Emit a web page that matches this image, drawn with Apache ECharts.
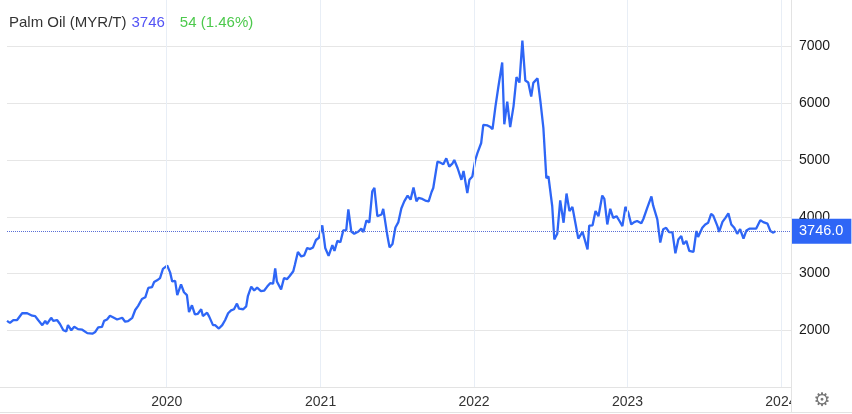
<!DOCTYPE html>
<html>
<head>
<meta charset="utf-8">
<title>Palm Oil</title>
<script src="https://cdn.jsdelivr.net/npm/echarts@6/dist/echarts.min.js"></script>
<style>
	html, body { margin: 0; padding: 0; background: #fff; }
	#chart { width: 852px; height: 414px; }
</style>
</head>
<body>
<div id="chart"></div>
<script>
// day of year (1 = Jan 1) and closing price
var days2019 = [-14, -7, 1, 10, 22, 34, 46, 53, 60, 70, 77, 81, 91, 96, 105, 112, 120, 127, 131, 139, 146, 155, 165, 169, 177, 189, 196, 203, 212, 217, 224, 231, 238, 248, 260, 267, 274, 284, 291, 298, 307, 315, 322, 331, 336, 343, 350, 357];
var price2019 = [2166, 2130, 2180, 2180, 2300, 2300, 2256, 2250, 2180, 2090, 2166, 2110, 2220, 2166, 2180, 2110, 2000, 1980, 2090, 2000, 2060, 2020, 2010, 2000, 1950, 1940, 1970, 2050, 2060, 2166, 2190, 2256, 2230, 2190, 2220, 2150, 2160, 2220, 2357, 2430, 2550, 2580, 2745, 2760, 2850, 2880, 2920, 3080];

var days2020 = [2, 9, 14, 21, 26, 35, 42, 49, 54, 61, 68, 75, 83, 87, 97, 102, 111, 116, 125, 133, 140, 147, 154, 161, 168, 173, 183, 190, 194, 202, 209, 216, 225, 233, 240, 247, 254, 259, 263, 273, 280, 287, 294, 302, 306, 313, 321, 328, 335, 342, 349, 356, 363];
var price2020 = [3140, 3020, 2860, 2870, 2620, 2810, 2670, 2620, 2320, 2440, 2280, 2290, 2370, 2250, 2310, 2240, 2090, 2090, 2030, 2090, 2180, 2300, 2350, 2370, 2470, 2380, 2370, 2420, 2600, 2770, 2700, 2750, 2690, 2700, 2770, 2830, 2820, 3090, 2860, 2720, 2920, 2900, 2960, 3040, 3160, 3380, 3300, 3320, 3450, 3430, 3460, 3590, 3630];

var days2021 = [5, 12, 20, 29, 34, 41, 48, 55, 62, 67, 74, 81, 91, 98, 103, 110, 117, 124, 129, 136, 146, 150, 160, 165, 172, 179, 186, 193, 200, 208, 215, 222, 229, 234, 243, 250, 258, 265, 269, 279, 284, 293, 300, 307, 315, 319, 327, 336, 341, 350, 355, 362];
var price2021 = [3850, 3450, 3310, 3500, 3400, 3575, 3550, 3760, 3765, 4130, 3740, 3700, 3740, 3790, 3730, 3935, 3900, 4450, 4510, 4010, 4040, 4140, 3660, 3460, 3520, 3810, 3906, 4145, 4272, 4372, 4302, 4517, 4272, 4332, 4314, 4285, 4272, 4436, 4506, 4970, 4960, 4925, 5030, 4883, 4942, 5000, 4855, 4651, 4808, 4419, 4651, 4709];

var days2022 = [4, 9, 18, 23, 33, 40, 45, 52, 59, 68, 73, 80, 87, 95, 102, 109, 116, 123, 130, 137, 142, 152, 159, 166, 173, 178, 187, 192, 199, 206, 214, 221, 228, 235, 242, 249, 259, 263, 271, 275, 283, 290, 297, 306, 311, 318, 325, 332, 340, 347, 354, 361];
var price2022 = [5000, 5120, 5300, 5620, 5610, 5580, 5545, 5945, 6295, 6720, 5630, 6030, 5580, 5950, 6460, 6365, 7105, 6400, 6365, 6120, 6360, 6440, 6030, 5560, 4680, 4710, 4185, 3600, 3700, 4290, 3895, 4410, 4100, 4175, 3895, 3615, 3735, 3740, 3425, 3845, 3850, 4100, 4010, 4375, 4315, 3865, 4140, 3980, 4010, 3925, 3835, 4175];

var days2023 = [3, 10, 17, 24, 34, 39, 48, 58, 62, 72, 79, 86, 93, 100, 108, 115, 122, 129, 134, 141, 148, 158, 165, 169, 179, 186, 193, 200, 205, 215, 219, 227, 234, 241, 248, 255, 262, 269, 277, 284, 291, 300, 307, 317, 324, 334, 341, 348, 353];
var price2023 = [4070, 3865, 3905, 3925, 3885, 3965, 4155, 4360, 4200, 3955, 3545, 3780, 3805, 3730, 3725, 3355, 3600, 3660, 3515, 3575, 3400, 3380, 3750, 3645, 3805, 3865, 3895, 4050, 4020, 3835, 3735, 3910, 3980, 4060, 3865, 3805, 3700, 3780, 3615, 3760, 3790, 3790, 3790, 3940, 3905, 3880, 3750, 3720, 3746];

var yearLines = [2020, 2021, 2022, 2023, 2024];
var lastPrice = 3746;
var change = 54;
var changePct = 1.46;

var FONT = 'Liberation Sans, Arial, sans-serif';

var buildSeries = function() {
	var years = [
		[2019, days2019, price2019],
		[2020, days2020, price2020],
		[2021, days2021, price2021],
		[2022, days2022, price2022],
		[2023, days2023, price2023]
	];
	var out = [];
	years.forEach(function(y) {
		for (var i = 0; i < y[1].length; i++) {
			out.push([Date.UTC(y[0], 0, y[1][i]), y[2][i]]);
		}
	});
	return out;
};

var myChart = echarts.init(document.getElementById('chart'), null, { renderer: 'canvas' });

var option = {
	animation: false,
	useUTC: true,
	backgroundColor: '#fff',
	title: {
		left: 9,
		top: 14,
		padding: 0,
		text: '{n|Palm Oil (MYR/T)} {p|' + lastPrice + '}   {c|' + change + ' (' + changePct.toFixed(2) + '%)}',
		textStyle: {
			fontWeight: 'normal',
			rich: {
				n: { fontSize: 15, color: '#333', fontWeight: 'normal', fontFamily: FONT },
				p: { fontSize: 15, color: '#5353f5', fontWeight: 'normal', fontFamily: FONT },
				c: { fontSize: 15, color: '#4cc94c', fontWeight: 'normal', fontFamily: FONT }
			}
		}
	},
	grid: { left: 7, right: 61, top: 0, bottom: 27, containLabel: false },
	xAxis: {
		type: 'time',
		min: Date.UTC(2018, 11, 17),
		max: Date.UTC(2024, 0, 25),
		minInterval: 3600 * 24 * 1000 * 360,
		maxInterval: 3600 * 24 * 1000 * 370,
		axisLine: { show: true, lineStyle: { color: '#e3e3e3', width: 1 } },
		axisTick: { show: false },
		splitLine: { show: false },
		axisLabel: {
			margin: 8,
			fontSize: 14,
			color: '#333',
			fontFamily: FONT,
			formatter: function(value) {
				var y = new Date(value).getUTCFullYear();
				return y < 2020 ? '' : String(y);
			}
		}
	},
	yAxis: {
		type: 'value',
		position: 'right',
		min: 1000,
		max: 7820,
		interval: 1000,
		axisLine: { show: true, lineStyle: { color: '#e3e3e3', width: 1 } },
		axisTick: { show: false },
		splitLine: { show: true, showMinLine: false, showMaxLine: false, lineStyle: { color: '#e6e6e6', width: 1 } },
		axisLabel: {
			showMinLabel: false,
			showMaxLabel: false,
			margin: 8,
			fontSize: 14,
			color: '#1a1a1a',
			fontFamily: FONT,
			formatter: function(value) { return String(value); }
		}
	},
	series: [{
		// vertical year grid lines
		type: 'line',
		data: [],
		z: 1,
		silent: true,
		markLine: {
			silent: true,
			symbol: ['none', 'none'],
			label: { show: false },
			lineStyle: { color: '#e8eef6', type: 'solid', width: 1 },
			data: yearLines.map(function(y) { return { xAxis: Date.UTC(y, 0, 1) }; })
		}
	}, {
		name: 'Palm Oil',
		type: 'line',
		z: 3,
		data: buildSeries(),
		showSymbol: false,
		smooth: false,
		lineStyle: { color: '#2e66f6', width: 2.3 },
		itemStyle: { color: '#2e66f6' },
		markLine: {
			silent: true,
			symbol: ['none', 'none'],
			lineStyle: { color: '#5a6fd6', type: 'dotted', width: 1 },
			label: {
				show: true,
				position: 'end',
				distance: 1,
				formatter: function(p) { return p.value.toFixed(1); },
				backgroundColor: '#2e66f6',
				color: '#fff',
				fontSize: 14.5,
				fontFamily: FONT,
				padding: [5, 8, 5, 7]
			},
			data: [{ yAxis: lastPrice }]
		}
	}],
	graphic: [{
		type: 'rect',
		shape: { x: 792, y: 389, width: 60, height: 23 },
		style: { fill: '#fff' },
		z: 50
	}, {
		type: 'line',
		shape: { x1: 791.5, y1: 387, x2: 791.5, y2: 413 },
		style: { stroke: '#e3e3e3', lineWidth: 1 },
		z: 51
	}, {
		type: 'line',
		shape: { x1: 0, y1: 412.5, x2: 852, y2: 412.5 },
		style: { stroke: '#e3e3e3', lineWidth: 1 },
		z: 51
	}, {
		type: 'line',
		shape: { x1: 0, y1: 387.5, x2: 7, y2: 387.5 },
		style: { stroke: '#e3e3e3', lineWidth: 1 },
		z: 51
	}, {
		type: 'text',
		x: 822,
		y: 401,
		style: { text: '\u2699', fontSize: 19, fill: '#777', fontFamily: 'DejaVu Sans', align: 'center', verticalAlign: 'middle' },
		z: 52
	}]
};

myChart.setOption(option);
</script>
</body>
</html>
